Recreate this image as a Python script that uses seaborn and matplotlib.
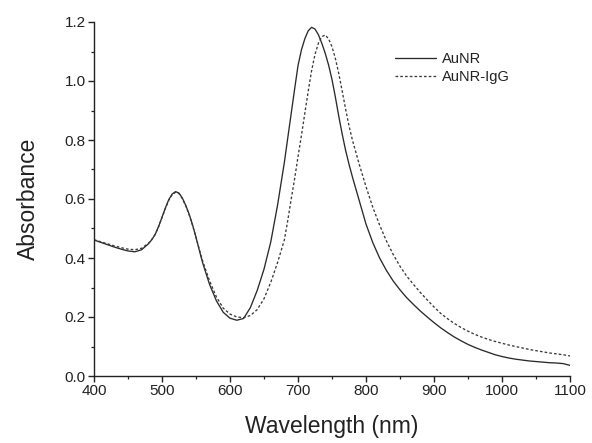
import numpy as np
import pandas as pd
import matplotlib
matplotlib.use("Agg")
import matplotlib.pyplot as plt
from matplotlib.ticker import MultipleLocator, FormatStrFormatter
import seaborn as sns

wavelength = ([400, 410, 420, 430, 440, 450, 460, 470, 480]
              + [485, 490, 495, 500, 505, 510, 515, 520, 525, 530, 535, 540, 545, 550, 555, 560]
              + [570, 580, 590, 600, 610, 620, 630, 640, 650, 660, 670, 680]
              + [685, 690, 695, 700, 705, 710, 715, 720, 725, 730, 735, 740, 745, 750,
                 755, 760, 765, 770, 775, 780]
              + [790, 800, 810, 820, 830, 840, 850, 860, 870, 880, 890, 900, 910, 920,
                 930, 940, 950, 960, 970, 980, 990, 1000, 1010, 1020, 1030, 1040, 1050,
                 1060, 1070, 1080, 1090, 1100])

aunr = ([0.461, 0.453, 0.445, 0.437, 0.430, 0.424, 0.421, 0.428, 0.448]
        + [0.462, 0.480, 0.507, 0.538, 0.570, 0.598, 0.617, 0.625, 0.620, 0.603, 0.578,
           0.548, 0.512, 0.470, 0.425, 0.382]
        + [0.310, 0.255, 0.216, 0.196, 0.189, 0.195, 0.232, 0.290, 0.362, 0.455, 0.580, 0.725]
        + [0.808, 0.890, 0.972, 1.052, 1.105, 1.143, 1.170, 1.182, 1.176, 1.157, 1.128,
           1.094, 1.054, 1.005, 0.945, 0.880, 0.820, 0.765, 0.718, 0.675]
        + [0.595, 0.515, 0.452, 0.400, 0.358, 0.322, 0.292, 0.265, 0.242, 0.220, 0.200,
           0.181, 0.163, 0.147, 0.132, 0.119, 0.107, 0.097, 0.088, 0.080, 0.072, 0.066,
           0.061, 0.057, 0.054, 0.051, 0.049, 0.047, 0.045, 0.044, 0.042, 0.036])

aunr_igg = ([0.462, 0.455, 0.448, 0.441, 0.435, 0.430, 0.428, 0.433, 0.450]
            + [0.463, 0.480, 0.506, 0.537, 0.568, 0.596, 0.615, 0.623, 0.618, 0.601, 0.576,
               0.546, 0.510, 0.470, 0.428, 0.388]
            + [0.322, 0.268, 0.230, 0.210, 0.200, 0.198, 0.205, 0.225, 0.262, 0.318, 0.385, 0.462]
            + [0.528, 0.600, 0.668, 0.743, 0.815, 0.890, 0.965, 1.035, 1.090, 1.128, 1.150,
               1.156, 1.143, 1.116, 1.076, 1.025, 0.965, 0.905, 0.848, 0.800]
            + [0.718, 0.642, 0.572, 0.512, 0.458, 0.412, 0.372, 0.338, 0.310, 0.283, 0.258,
               0.234, 0.212, 0.194, 0.178, 0.164, 0.152, 0.141, 0.132, 0.124, 0.117, 0.111,
               0.105, 0.100, 0.095, 0.090, 0.086, 0.082, 0.078, 0.075, 0.072, 0.068])

series_names = ["AuNR", "AuNR-IgG"]

sns.set_theme(style="ticks")
plt.rcParams['font.family'] = ['Liberation Sans', 'DejaVu Sans']

fig = plt.figure(figsize=(5.92, 4.43), dpi=100)
ax = fig.add_axes([94/592, 1 - 376/443, (570 - 94)/592, (376 - 22)/443])

df1 = pd.DataFrame({"Wavelength": wavelength, "Absorbance": aunr})
df2 = pd.DataFrame({"Wavelength": wavelength, "Absorbance": aunr_igg})

sns.lineplot(data=df1, x="Wavelength", y="Absorbance", ax=ax, color="#2a2a2a",
             linewidth=0.95, label=series_names[0])
sns.lineplot(data=df2, x="Wavelength", y="Absorbance", ax=ax, color="#3a3a3a",
             linewidth=0.95, linestyle=(0, (2.0, 1.6)), label=series_names[1])

ax.set_xlim(400, 1100)
ax.set_ylim(0, 1.2)
ax.xaxis.set_major_locator(MultipleLocator(100))
ax.xaxis.set_minor_locator(MultipleLocator(50))
ax.yaxis.set_major_locator(MultipleLocator(0.2))
ax.yaxis.set_minor_locator(MultipleLocator(0.1))
ax.yaxis.set_major_formatter(FormatStrFormatter('%.1f'))

for side in ["top", "right"]:
    ax.spines[side].set_visible(False)
for side in ["left", "bottom"]:
    ax.spines[side].set_color("#222222")
    ax.spines[side].set_linewidth(1.0)

ax.tick_params(axis="both", which="major", direction="out", length=4, width=1.0,
               labelsize=11, color="#222222", labelcolor="#222222", pad=2)
ax.tick_params(axis="both", which="minor", direction="out", length=2.5, width=0.9,
               color="#222222")

ax.set_xlabel("Wavelength (nm)", fontsize=16.5, color="#222222", labelpad=12)
ax.set_ylabel("Absorbance", fontsize=16.5, color="#222222", labelpad=18)

leg = ax.legend(loc="upper left", bbox_to_anchor=(395/592, 1 - 52/443),
                bbox_transform=fig.transFigure, frameon=False, fontsize=10.5,
                handlelength=2.8, handletextpad=0.4, labelspacing=0.25,
                borderaxespad=0, borderpad=0)
for t in leg.get_texts():
    t.set_color("#222222")

fig.savefig("out.png", dpi=100)
